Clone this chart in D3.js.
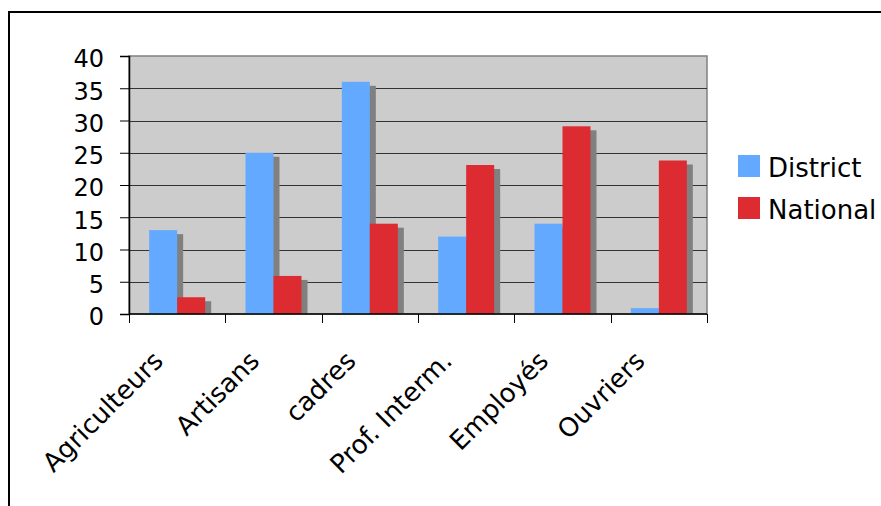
<!DOCTYPE html>
<html>
<head>
<meta charset="utf-8">
<script src="https://cdn.jsdelivr.net/npm/d3@7"></script>
<style>
  html, body { margin: 0; padding: 0; background: #fff; }
  svg { display: block; }
  text { font-family: "DejaVu Sans", Verdana, sans-serif; fill: #000; }
</style>
</head>
<body>
<svg id="chart" width="881" height="506"></svg>
<script>
const categories = ["Agriculteurs", "Artisans", "cadres", "Prof. Interm.", "Employés", "Ouvriers"];
const seriesNames = ["District", "National"];
const districtValues = [13, 25, 36, 12, 14, 0.9];
const nationalValues = [2.6, 5.9, 14, 23.1, 29.1, 23.8];
const yTicks = [0, 5, 10, 15, 20, 25, 30, 35, 40];
const colors = ["#63a9ff", "#dc2c32"];

const svg = d3.select("#chart");
const plot = { left: 129, top: 56, right: 707, bottom: 314 };

// outer chart border
svg.append("rect")
  .attr("x", 9).attr("y", 12)
  .attr("width", 900).attr("height", 600)
  .attr("fill", "none").attr("stroke", "#000").attr("stroke-width", 2);

const x = d3.scaleBand().domain(categories).range([plot.left, plot.right]).paddingInner(0).paddingOuter(0);
const xs = d3.scaleBand().domain(seriesNames).range([0, x.bandwidth()]).paddingInner(0).paddingOuter(0.72);
const y = d3.scaleLinear().domain([0, 40]).range([plot.bottom, plot.top]);

// plot background
svg.append("rect")
  .attr("x", plot.left).attr("y", plot.top)
  .attr("width", plot.right - plot.left).attr("height", plot.bottom - plot.top)
  .attr("fill", "#cccccc").attr("stroke", "#808080").attr("stroke-width", 1.5);

// gridlines
svg.append("g").selectAll("line").data(yTicks.filter(t => t > 0 && t < 40)).join("line")
  .attr("x1", plot.left).attr("x2", plot.right)
  .attr("y1", d => Math.round(y(d)) + 0.5).attr("y2", d => Math.round(y(d)) + 0.5)
  .attr("stroke", "#333").attr("stroke-width", 1);

const data = categories.map((c, i) => ({ cat: c, vals: [districtValues[i], nationalValues[i]] }));
const flat = [];
data.forEach(d => d.vals.forEach((v, j) => flat.push({ cat: d.cat, series: seriesNames[j], value: v, j })));

// shadows
svg.append("g").selectAll("rect").data(flat).join("rect")
  .attr("x", d => x(d.cat) + xs(d.series) + 6)
  .attr("y", d => Math.min(y(d.value) + 4, plot.bottom))
  .attr("width", xs.bandwidth())
  .attr("height", d => Math.max(0, plot.bottom - y(d.value) - 4))
  .attr("fill", "#808080");

// bars
svg.append("g").selectAll("rect").data(flat).join("rect")
  .attr("x", d => x(d.cat) + xs(d.series))
  .attr("y", d => y(d.value))
  .attr("width", xs.bandwidth())
  .attr("height", d => plot.bottom - y(d.value))
  .attr("fill", d => colors[d.j]);

// y axis
const yAxis = d3.axisLeft(y).tickValues(yTicks).tickSize(9).tickPadding(16).tickFormat(d3.format("d"));
const gy = svg.append("g").attr("transform", `translate(${plot.left},0)`).call(yAxis);
gy.select(".domain").attr("stroke", "#000").attr("stroke-width", 1.5);
gy.selectAll(".tick line").attr("stroke", "#000");
gy.selectAll("text").style("font-size", "24px").attr("dy", "0.45em");

// x axis
const gx = svg.append("g").attr("transform", `translate(0,${plot.bottom})`);
gx.append("line").attr("x1", plot.left).attr("x2", plot.right).attr("y1", 0).attr("y2", 0)
  .attr("stroke", "#000").attr("stroke-width", 1.5);
const bounds = categories.map(c => x(c)).concat([x(categories[categories.length - 1]) + x.bandwidth()]);
gx.selectAll("line.tk").data(bounds).join("line").attr("class", "tk")
  .attr("x1", d => Math.round(d) + 0.5).attr("x2", d => Math.round(d) + 0.5)
  .attr("y1", 0).attr("y2", 9).attr("stroke", "#000");
gx.selectAll("text").data(categories).join("text")
  .attr("transform", d => `translate(${x(d) + x.bandwidth() / 2 - 19},${42}) rotate(-45)`)
  .attr("text-anchor", "end")
  .attr("dy", "0.35em")
  .style("font-size", "26px")
  .text(d => d);

// legend
const legend = svg.append("g");
seriesNames.forEach((s, i) => {
  const g = legend.append("g").attr("transform", `translate(738,${155 + i * 42})`);
  g.append("rect").attr("width", 22).attr("height", 22).attr("fill", colors[i]);
  g.append("text").attr("x", 30).attr("y", 11).attr("dy", "0.42em").style("font-size", "26px").text(s);
});
</script>
</body>
</html>
